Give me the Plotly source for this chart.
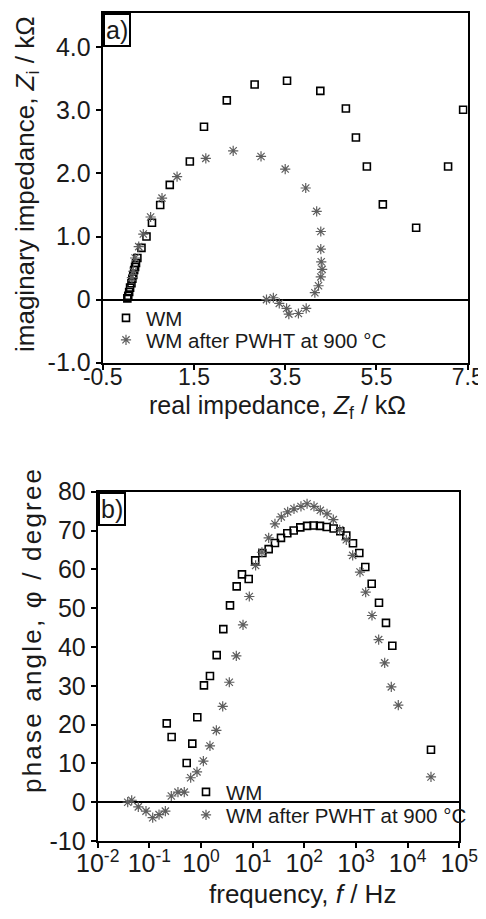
import plotly.graph_objects as go

# a) Nyquist - WM (quadrados) e WM após PWHT (asteriscos), kOhm
wm_zf = [0.04, 0.06, 0.08, 0.10, 0.13, 0.15, 0.17, 0.19, 0.21, 0.23, 0.26, 0.35, 0.46, 0.58,
         0.76, 0.97, 1.41, 1.72, 2.22, 2.83, 3.54, 4.27, 4.83, 5.05, 5.29, 5.64, 6.37, 7.07, 7.40]
wm_zi = [0.02, 0.06, 0.12, 0.19, 0.26, 0.33, 0.39, 0.47, 0.52, 0.58, 0.66, 0.82, 1.00, 1.22,
         1.50, 1.82, 2.19, 2.74, 3.16, 3.41, 3.47, 3.31, 3.03, 2.57, 2.11, 1.51, 1.14, 2.11, 3.01]

pw_zf = [0.14, 0.17, 0.21, 0.29, 0.39, 0.55, 0.80, 1.13, 1.76, 2.36, 2.97, 3.50, 3.95, 4.19,
         4.28, 4.28, 4.29, 4.31, 4.28, 4.23, 4.15, 3.96, 3.79, 3.58, 3.53, 3.37, 3.24, 3.09]
pw_zi = [0.35, 0.45, 0.66, 0.84, 1.04, 1.31, 1.61, 1.95, 2.24, 2.36, 2.27, 2.07, 1.77, 1.40,
         1.08, 0.80, 0.60, 0.48, 0.36, 0.22, 0.11, -0.14, -0.22, -0.23, -0.14, -0.06, 0.03, 0.00]

# b) Bode - ângulo de fase vs frequência
wm_freq = [0.217, 0.270, 0.528, 0.678, 0.847, 1.14, 1.49, 2.01, 2.70, 3.64, 4.90, 6.21,
           8.37, 11.2, 15.4, 20.4, 27.0, 35.3, 46.8, 62.2, 83.5, 113, 152, 201, 271, 370,
           497, 649, 875, 1159, 1514, 2014, 2788, 3808, 5050, 28300]
wm_phase = [20.3, 16.8, 10.1, 15.1, 21.9, 30.1, 32.5, 37.9, 44.6, 50.7, 55.6, 58.7,
            57.5, 62.3, 64.2, 65.2, 66.8, 68.1, 69.3, 70.0, 70.8, 71.2, 71.3, 71.2, 70.9, 70.5,
            69.8, 68.7, 66.7, 64.2, 60.6, 56.3, 51.4, 46.2, 40.3, 13.5]

pw_freq = [0.0381, 0.0455, 0.0611, 0.0861, 0.116, 0.154, 0.204, 0.266, 0.358, 0.474, 0.631,
           0.836, 1.11, 1.49, 1.98, 2.63, 3.53, 4.82, 6.50, 8.61, 11.4, 15.1, 20.4, 27.0,
           35.8, 47.6, 63.1, 86.1, 113, 154, 204, 275, 364, 484, 649, 863, 1195, 1541,
           2042, 2748, 3594, 4822, 6592, 28300]
pw_phase = [0.0, 0.5, -1.2, -2.3, -4.0, -3.2, -2.3, 1.6, 2.6, 2.6, 6.3,
            7.8, 10.6, 14.5, 18.5, 24.7, 30.9, 37.7, 45.7, 53.0, 61.0, 64.4, 68.1, 71.7,
            73.5, 74.8, 75.6, 76.2, 76.9, 76.2, 75.2, 74.3, 72.8, 70.2, 67.6, 63.6, 59.3, 54.1,
            48.1, 41.9, 35.9, 29.7, 25.0, 6.5]

# ticks
zf_ticks = [-0.5, 1.5, 3.5, 5.5, 7.5]
zf_text = ["-0.5", "1.5", "3.5", "5.5", "7.5"]
zi_ticks = [-1, 0, 1, 2, 3, 4]
zi_text = ["-1.0", "0", "1.0", "2.0", "3.0", "4.0"]
fase_ticks = [-10, 0, 10, 20, 30, 40, 50, 60, 70, 80]
fase_text = ["-10", "0", "10", "20", "30", "40", "50", "60", "70", "80"]
freq_ticks = [1e-2, 1e-1, 1, 10, 1e2, 1e3, 1e4, 1e5]
freq_text = ["10<sup>-2</sup>", "10<sup>-1</sup>", "10<sup>0</sup>", "10<sup>1</sup>",
             "10<sup>2</sup>", "10<sup>3</sup>", "10<sup>4</sup>", "10<sup>5</sup>"]

# a página tem margem de 8 px no body -> figura menor e posições em px da janela
W, H = 478, 903
def fx(px):
    return (px - 8) / W
def fy(py):
    return 1 - (py - 8) / H

FONTE = "Liberation Sans, Arial, sans-serif"
COR_TXT = "#1a1a1a"
quadrado = dict(symbol="square-open", size=7, color="black", line=dict(width=1.6, color="black"))
asterisco = dict(symbol="asterisk-open", size=8.5, color="#5e5e5e", line=dict(width=1.2, color="#5e5e5e"))

fig = go.Figure()

fig.add_trace(go.Scatter(x=wm_zf, y=wm_zi, mode="markers", name="WM", marker=quadrado,
                         xaxis="x", yaxis="y", legend="legend2"))
fig.add_trace(go.Scatter(x=pw_zf, y=pw_zi, mode="markers", name="WM after PWHT at 900 °C",
                         marker=asterisco, xaxis="x", yaxis="y", legend="legend3"))
fig.add_trace(go.Scatter(x=wm_freq, y=wm_phase, mode="markers", name="WM", marker=quadrado,
                         xaxis="x2", yaxis="y2", legend="legend4"))
fig.add_trace(go.Scatter(x=pw_freq, y=pw_phase, mode="markers", name="WM after PWHT at 900 °C",
                         marker=asterisco, xaxis="x2", yaxis="y2", legend="legend5"))

eixo = dict(showline=True, linewidth=2, linecolor="black", mirror=True, ticks="outside",
            ticklen=5, tickwidth=2, tickcolor="black", showgrid=False, automargin=False,
            tickfont=dict(size=25, color=COR_TXT))

def leg(x, y):
    return dict(x=x, y=y, xanchor="left", yanchor="middle", bgcolor="rgba(0,0,0,0)",
                font=dict(size=20.5, color=COR_TXT), itemwidth=30, borderwidth=0)

fig.update_layout(
    template="none",
    width=W, height=H,
    margin=dict(l=0, r=0, t=0, b=0),
    paper_bgcolor="white", plot_bgcolor="white",
    font=dict(family=FONTE, color=COR_TXT),
    xaxis=dict(eixo, domain=[fx(102.7), fx(467.7)], range=[-0.5, 7.5], anchor="y",
               tickvals=zf_ticks, ticktext=zf_text, zeroline=False,
               tickfont=dict(size=23), ticklabelstandoff=-12),
    yaxis=dict(eixo, domain=[fy(362.7), fy(13.3)], range=[-1.0, 4.54], anchor="x",
               tickvals=zi_ticks, ticktext=zi_text,
               zeroline=True, zerolinecolor="black", zerolinewidth=1.5),
    xaxis2=dict(eixo, domain=[fx(97.7), fx(459.3)], type="log", range=[-2, 5], anchor="y2",
                tickvals=freq_ticks, ticktext=freq_text, zeroline=False,
                ticklabelstandoff=-6),
    yaxis2=dict(eixo, domain=[fy(841), fy(491.7)], range=[-10, 80], anchor="x2",
                tickvals=fase_ticks, ticktext=fase_text,
                zeroline=True, zerolinecolor="black", zerolinewidth=1.5),
    legend2=leg(fx(106), fy(318)),
    legend3=leg(fx(106), fy(340)),
    legend4=leg(fx(186), fy(792)),
    legend5=leg(fx(186), fy(815)),
)

# títulos dos eixos (posicionados como na figura original)
titulos = [
    ("imaginary impedance, <i>Z</i><sub>i</sub> / kΩ", 27, 184, -90, 26),
    ("real impedance, <i>Z</i><sub>f</sub> / kΩ", 277, 407, 0, 25),
    ('<span style="letter-spacing:2.2px">phase angle, φ / degree</span>', 32, 630, -90, 26),
    ("frequency, <i>f</i> / Hz", 302, 894, 0, 26),
]
for txt, px, py, ang, tam in titulos:
    fig.add_annotation(text=txt, xref="paper", yref="paper", x=fx(px), y=fy(py),
                       xanchor="center", yanchor="middle", textangle=ang, showarrow=False,
                       font=dict(size=tam, color=COR_TXT))

# rótulos dos painéis
for txt, xp, yp in [("a)", fx(102.7), fy(13.3)), ("b)", fx(97.7), fy(491.7))]:
    fig.add_annotation(text=txt, xref="paper", yref="paper", x=xp, y=yp,
                       xanchor="left", yanchor="top", showarrow=False,
                       font=dict(size=25, color=COR_TXT), bordercolor="black",
                       borderwidth=2, borderpad=1, bgcolor="white")

fig.write_html("out.html")
